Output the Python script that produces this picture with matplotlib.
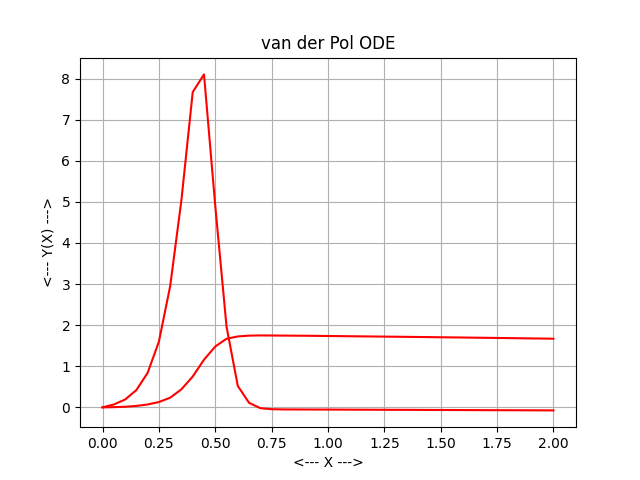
import numpy as np
import matplotlib
matplotlib.use("Agg")
import matplotlib.pyplot as plt

# van der Pol: solucion y su derivada
x = np.linspace(0, 2, 41)
y = [0.0, 0.005, 0.015, 0.035, 0.07, 0.13, 0.235, 0.44, 0.75, 1.16,
     1.48, 1.67, 1.725, 1.745, 1.75, 1.748, 1.746, 1.744, 1.742, 1.739,
     1.736, 1.733, 1.730, 1.727, 1.724, 1.721, 1.718, 1.715, 1.712, 1.709,
     1.705, 1.702, 1.699, 1.695, 1.692, 1.688, 1.685, 1.681, 1.677, 1.674,
     1.670]
dy = [0.0, 0.07, 0.19, 0.42, 0.84, 1.6, 2.95, 5.05, 7.67, 8.1,
      4.9, 1.96, 0.52, 0.11, -0.02, -0.045, -0.05, -0.051, -0.052, -0.053,
      -0.054, -0.055, -0.056, -0.057, -0.058, -0.059, -0.060, -0.061, -0.062, -0.063,
      -0.064, -0.065, -0.066, -0.067, -0.068, -0.069, -0.070, -0.071, -0.072, -0.073,
      -0.074]

plt.figure(figsize=(6.4, 4.8), dpi=100)
plt.plot(x, y, 'r')
plt.plot(x, dy, 'r')
plt.grid(True)
plt.title("van der Pol ODE")
plt.xlabel("<--- X --->")
plt.ylabel("<--- Y(X) --->")
plt.savefig("out.png")
